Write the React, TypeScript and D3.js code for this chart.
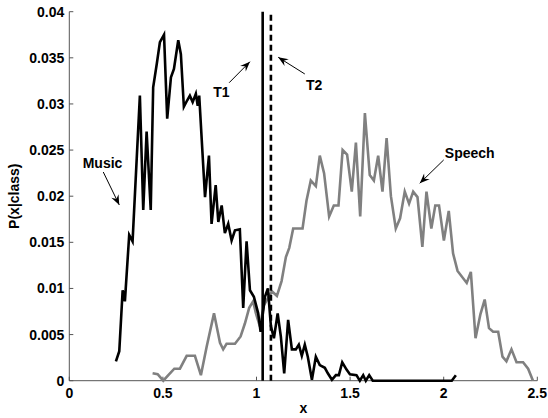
import React from 'react';
import * as d3 from 'd3';

// music class-conditional density
const musicX = [0.249, 0.267, 0.285, 0.297, 0.320, 0.338, 0.377, 0.395, 0.413, 0.435, 0.448, 0.467, 0.484, 0.506, 0.523, 0.543, 0.559, 0.582, 0.596, 0.612, 0.630, 0.644, 0.659, 0.676, 0.686, 0.694, 0.725, 0.746, 0.760, 0.782, 0.796, 0.814, 0.831, 0.849, 0.867, 0.885, 0.911, 0.929, 0.947, 0.965, 0.986, 1.009, 1.022, 1.045, 1.061, 1.077, 1.093, 1.113, 1.130, 1.148, 1.169, 1.189, 1.210, 1.226, 1.242, 1.258, 1.274, 1.296, 1.317, 1.338, 1.365, 1.381, 1.403, 1.424, 1.440, 1.458, 1.481, 1.499, 1.534, 1.552, 1.570, 1.584, 1.602, 1.621, 2.043, 2.065];
const musicP = [0.0021, 0.0032, 0.0098, 0.0086, 0.0158, 0.0151, 0.0309, 0.0185, 0.0270, 0.0185, 0.0318, 0.0343, 0.0367, 0.0375, 0.0284, 0.0329, 0.0338, 0.0369, 0.0354, 0.0297, 0.0304, 0.0309, 0.0302, 0.0311, 0.0298, 0.0309, 0.0199, 0.0244, 0.0170, 0.0212, 0.0172, 0.0190, 0.0160, 0.0170, 0.0152, 0.0163, 0.0164, 0.0079, 0.0151, 0.0098, 0.0091, 0.0073, 0.0053, 0.0091, 0.0100, 0.0059, 0.0046, 0.0073, 0.0048, 0.0008, 0.0066, 0.0034, 0.0034, 0.0039, 0.0027, 0.0039, 0.0026, 0.0001, 0.0026, 0.0017, 0.0014, 0.0008, 0.0001, 0.0006, 0.0006, 0.0020, 0.0012, 0.0007, 0.0006, 0.0, 0.0006, 0.0, 0.0006, 0.0, 0.0, 0.0006];

// speech class-conditional density
const speechX = [0.445, 0.472, 0.502, 0.529, 0.561, 0.591, 0.627, 0.671, 0.703, 0.734, 0.773, 0.805, 0.822, 0.840, 0.885, 0.915, 0.938, 0.961, 0.982, 0.997, 1.018, 1.040, 1.068, 1.082, 1.109, 1.134, 1.157, 1.175, 1.196, 1.246, 1.267, 1.290, 1.317, 1.338, 1.361, 1.388, 1.413, 1.438, 1.460, 1.484, 1.509, 1.531, 1.554, 1.579, 1.605, 1.627, 1.650, 1.673, 1.695, 1.718, 1.744, 1.767, 1.792, 1.815, 1.837, 1.860, 1.886, 1.908, 1.934, 1.955, 1.975, 2.001, 2.027, 2.050, 2.074, 2.123, 2.145, 2.170, 2.196, 2.219, 2.242, 2.264, 2.291, 2.314, 2.335, 2.362, 2.389, 2.424, 2.451, 2.477];
const speechP = [0.0008, 0.0007, 0.0, 0.0006, 0.0013, 0.0013, 0.0027, 0.0027, 0.0006, 0.0037, 0.0073, 0.0041, 0.0034, 0.0040, 0.0040, 0.0048, 0.0062, 0.0079, 0.0086, 0.0073, 0.0059, 0.0082, 0.0092, 0.0097, 0.0092, 0.0108, 0.0134, 0.0144, 0.0165, 0.0165, 0.0195, 0.0217, 0.0211, 0.0244, 0.0225, 0.0178, 0.0190, 0.0190, 0.0250, 0.0245, 0.0205, 0.0258, 0.0178, 0.0290, 0.0223, 0.0217, 0.0244, 0.0205, 0.0263, 0.0200, 0.0165, 0.0176, 0.0205, 0.0192, 0.0205, 0.0199, 0.0145, 0.0205, 0.0165, 0.0190, 0.0190, 0.0152, 0.0184, 0.0138, 0.0119, 0.0106, 0.0118, 0.0046, 0.0072, 0.0088, 0.0057, 0.0053, 0.0053, 0.0026, 0.0021, 0.0034, 0.0020, 0.0020, 0.0013, 0.0];

const xTicks = [0, 0.5, 1, 1.5, 2, 2.5];
const yTicks = [0, 0.005, 0.01, 0.015, 0.02, 0.025, 0.03, 0.035, 0.04];
const yTickLabels = ['0', '0.005', '0.01', '0.015', '0.02', '0.025', '0.03', '0.035', '0.04'];

// thresholds
const thresholds = [
  { name: 'T1', x: 1.033, dash: null },
  { name: 'T2', x: 1.077, dash: '6,4' },
];

// text labels with arrows, in data units
const notes = [
  { text: 'Music', tx: 0.0715, ty: 0.02306, x0: 0.1815, y0: 0.02262, x1: 0.267, y1: 0.01905 },
  { text: 'T1', tx: 0.769, ty: 0.03079, x0: 0.854, y0: 0.0323, x1: 0.965, y1: 0.03458 },
  { text: 'T2', tx: 1.264, ty: 0.03151, x0: 1.258, y0: 0.03325, x1: 1.116, y1: 0.03506 },
  { text: 'Speech', tx: 2.006, ty: 0.02414, x0: 2.0, y0: 0.02393, x1: 1.872, y1: 0.0214 },
];

const W = 548, H = 418;
const FONT = '"Liberation Sans", Arial, Helvetica, sans-serif';
const FS = 14;

export default function App() {
  const x = d3.scaleLinear().domain([0, 2.5]).range([69.3, 537.3]);
  const y = d3.scaleLinear().domain([0, 0.04]).range([380.7, 11.7]);

  const line = d3.line<[number, number]>().x(d => x(d[0])).y(d => y(d[1]));
  const music = line(musicX.map((v, i) => [v, musicP[i]]));
  const speech = line(speechX.map((v, i) => [v, speechP[i]]));

  const axisColor = '#555';

  const arrowHead = (n: typeof notes[0]) => {
    const ax = x(n.x1), ay = y(n.y1);
    const ang = Math.atan2(ay - y(n.y0), ax - x(n.x0));
    const len = 10, half = 4;
    const bx = ax - len * Math.cos(ang), by = ay - len * Math.sin(ang);
    const px = -Math.sin(ang) * half, py = Math.cos(ang) * half;
    return `M${ax},${ay}L${bx + px},${by + py}L${bx + 0.35 * len * Math.cos(ang)},${by + 0.35 * len * Math.sin(ang)}L${bx - px},${by - py}Z`;
  };

  return (
    <svg width={W} height={H} style={{ position: 'absolute', left: 0, top: 0, background: '#fff' }}
      fontFamily={FONT} fontWeight="bold">
      {/* axes */}
      <line x1={x(0)} x2={x(2.5)} y1={y(0)} y2={y(0)} stroke={axisColor} strokeWidth={1} />
      <line x1={x(0)} x2={x(0)} y1={y(0)} y2={y(0.04)} stroke={axisColor} strokeWidth={1} />
      {xTicks.map(t => (
        <g key={'x' + t}>
          <line x1={x(t)} x2={x(t)} y1={y(0)} y2={y(0) - 4} stroke={axisColor} />
          <text x={x(t)} y={398} textAnchor="middle" fontSize={FS} fill="#000">{String(t)}</text>
        </g>
      ))}
      {yTicks.map((t, i) => (
        <g key={'y' + t}>
          <line x1={x(0)} x2={x(0) + 4} y1={y(t)} y2={y(t)} stroke={axisColor} />
          <text x={x(0) - 5} y={y(t) + 5} textAnchor="end" fontSize={FS} fill="#000">{yTickLabels[i]}</text>
        </g>
      ))}
      <text x={(x(0) + x(2.5)) / 2} y={413} textAnchor="middle" fontSize={FS}>x</text>
      <text transform={`translate(19,${(y(0) + y(0.04)) / 2}) rotate(-90)`} textAnchor="middle" fontSize={FS}>P(x|class)</text>

      {/* curves */}
      <path d={speech ?? ''} fill="none" stroke="#808080" strokeWidth={2.6} strokeLinejoin="miter" />
      <path d={music ?? ''} fill="none" stroke="#000" strokeWidth={2.6} strokeLinejoin="miter" />

      {thresholds.map(t => (
        <line key={t.name} x1={x(t.x)} x2={x(t.x)} y1={y(0)} y2={y(0.04)} stroke="#000" strokeWidth={2.6}
          strokeDasharray={t.dash ?? undefined} />
      ))}

      {notes.map(n => (
        <g key={n.text}>
          <text x={x(n.tx)} y={y(n.ty)} fontSize={FS}>{n.text}</text>
          <line x1={x(n.x0)} y1={y(n.y0)} x2={x(n.x1)} y2={y(n.y1)} stroke="#000" strokeWidth={1} />
          <path d={arrowHead(n)} fill="#000" />
        </g>
      ))}
    </svg>
  );
}
